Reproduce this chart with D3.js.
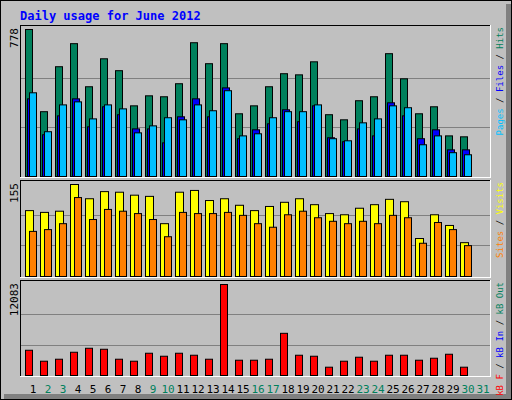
<!DOCTYPE html>
<html><head><meta charset="utf-8">
<script src="https://cdn.jsdelivr.net/npm/d3@7"></script>
<style>body{margin:0;background:#fff}text{font-family:"DejaVu Sans Mono",monospace}</style>
</head><body>
<div id="chart"></div>
<script>
var days = d3.range(1, 32);
var weekend = [2, 3, 9, 10, 16, 17, 23, 24, 30, 31];
var hits  = [778,343,581,703,475,623,560,374,427,422,491,708,597,703,332,374,475,544,538,607,327,300,401,422,650,517,332,369,215,210,0];
var files = [411,221,321,411,263,369,327,252,252,178,316,411,316,469,200,247,279,353,290,374,205,184,252,215,390,321,200,247,141,141,0];
var pages = [443,237,379,395,305,379,358,231,268,311,300,379,348,454,215,226,311,343,343,379,200,189,284,305,374,364,168,215,126,115,0];
var visits = [111,108,110,155,131,143,142,137,135,89,142,145,128,131,120,111,118,125,131,121,106,104,115,121,130,126,64,104,86,57,0];
var sites  = [76,79,89,133,96,113,110,106,96,67,108,106,106,108,103,89,83,104,110,99,93,89,93,89,103,99,56,91,79,52,0];
var kbytes = [3352,1897,2161,3087,3617,3484,2161,1897,2955,2558,2955,2690,2161,12083,2029,2029,2161,5600,2690,2558,1102,1897,2426,1897,2690,2690,2029,2293,2822,1102,0];

var svg = d3.select("#chart").append("svg").attr("width", 512).attr("height", 400);

// frame
svg.append("rect").attr("x", 0).attr("y", 0).attr("width", 512).attr("height", 400).attr("fill", "#c0c0c0");
svg.append("rect").attr("x", 506).attr("y", 4).attr("width", 5).attr("height", 395).attr("fill", "#808080");
svg.append("rect").attr("x", 4).attr("y", 394).attr("width", 507).attr("height", 5).attr("fill", "#808080");
svg.append("rect").attr("x", 0.5).attr("y", 0.5).attr("width", 511).attr("height", 399).attr("fill", "none").attr("stroke", "#000");

svg.append("text").attr("x", 20).attr("y", 20).attr("fill", "#0000ff")
  .attr("font-size", 12).attr("font-weight", "bold").text("Daily usage for June 2012");

var x = d3.scaleBand().domain(days).range([21, 486]).paddingInner(0);

function panel(y0, y1, max, maxLabel, series, labels) {
  var g = svg.append("g");
  g.append("line").attr("x1", 20).attr("x2", 491).attr("y1", y0 + 0.5).attr("y2", y0 + 0.5).attr("stroke", "#000");
  g.append("line").attr("x1", 20.5).attr("x2", 20.5).attr("y1", y0).attr("y2", y1).attr("stroke", "#000");
  g.append("line").attr("x1", 20).attr("x2", 491).attr("y1", y1 + 0.5).attr("y2", y1 + 0.5).attr("stroke", "#fff");
  g.append("line").attr("x1", 490.5).attr("x2", 490.5).attr("y1", y0).attr("y2", y1).attr("stroke", "#fff");
  var base = y1 - 1;
  var y = d3.scaleLinear().domain([0, max]).range([base, y0 + 4]);
  [1 / 3, 2 / 3].forEach(function (f) {
    var gy = Math.round(base - (base - y0 - 4) * f) + 0.5;
    g.append("line").attr("x1", 21).attr("x2", 490).attr("y1", gy).attr("y2", gy).attr("stroke", "#808080");
  });
  series.forEach(function (s) {
    g.selectAll(null).data(s.values).enter()
      .append("rect")
      .filter(function (d) { return d > 0; })
      .attr("x", function (d, i) { return x(days[i]) + s.dx + 0.5; })
      .attr("y", function (d) { return y(d) + 0.5; })
      .attr("width", s.w).attr("height", function (d) { return base - y(d); })
      .attr("fill", s.color).attr("stroke", "#000");
  });
  g.append("text").attr("transform", "translate(18," + (y0 + 3) + ") rotate(-90)")
    .attr("text-anchor", "end").attr("font-size", 11).text(maxLabel);
  var t = g.append("text").attr("transform", "translate(503," + (y0 + 2) + ") rotate(-90)")
    .attr("text-anchor", "end").attr("font-size", 9);
  labels.forEach(function (l, i) {
    if (i > 0) t.append("tspan").attr("fill", "#000").text(" / ");
    t.append("tspan").attr("fill", l[1]).text(l[0]);
  });
}

panel(25, 177, 778, "778", [
  { values: hits, color: "#00805c", dx: 4, w: 7 },
  { values: files, color: "#0000ff", dx: 6, w: 7 },
  { values: pages, color: "#00c0ff", dx: 8, w: 7 }
], [["Pages", "#00c0ff"], ["Files", "#0000ff"], ["Hits", "#00805c"]]);

panel(180, 277, 155, "155", [
  { values: visits, color: "#ffff00", dx: 4, w: 8 },
  { values: sites, color: "#ff8000", dx: 8, w: 7 }
], [["Sites", "#ff8000"], ["Visits", "#ffff00"]]);

panel(280, 376, 12083, "12083", [
  { values: kbytes, color: "#ff0000", dx: 4, w: 7 }
], [["kB F", "#ff0000"], ["kB In", "#0000ff"], ["kB Out", "#00805c"]]);

svg.selectAll(".day").data(days).enter().append("text")
  .attr("x", function (d) { return x(d) + 12; }).attr("y", 393)
  .attr("text-anchor", "middle").attr("font-size", 11)
  .attr("fill", function (d) { return weekend.indexOf(d) >= 0 ? "#00805c" : "#000"; })
  .text(function (d) { return d; });
</script>
</body></html>
